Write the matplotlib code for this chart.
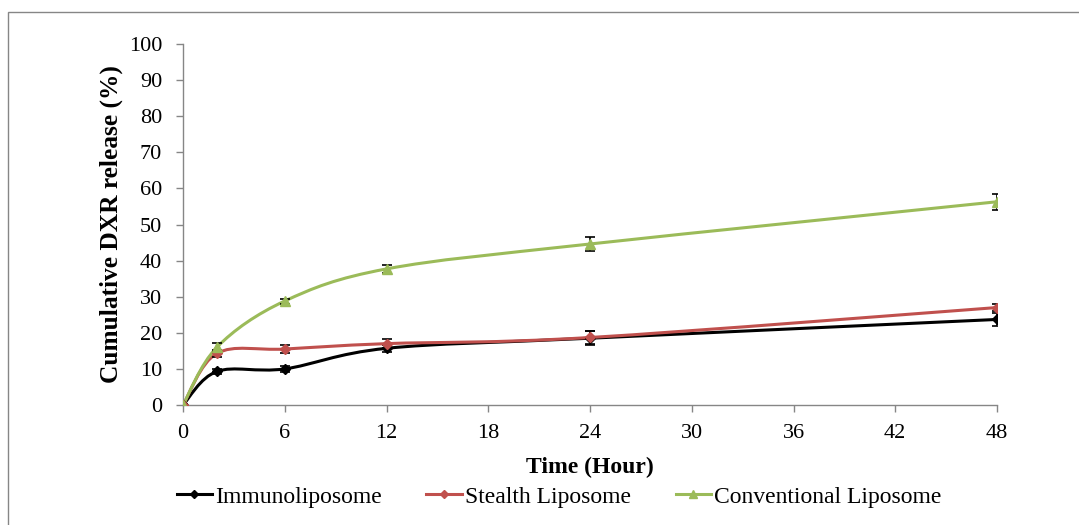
import matplotlib
matplotlib.use("Agg")
import matplotlib.pyplot as plt
from matplotlib.path import Path
from matplotlib.patches import PathPatch, Rectangle
from matplotlib.lines import Line2D

plt.rcParams['font.family'] = ['Liberation Serif', 'DejaVu Serif']

# data
hours = [0, 2, 6, 12, 24, 48]
immuno = [0, 9.3, 10.0, 15.7, 18.5, 23.7]
immuno_err = [0.3, 0.8, 0.9, 0.9, 1.9, 1.9]
stealth = [0, 14.3, 15.5, 17.0, 18.7, 27.0]
stealth_err = [0.3, 1.0, 1.0, 1.2, 1.9, 1.0]
conventional = [0, 16.0, 28.8, 37.7, 44.6, 56.3]
conventional_err = [0.3, 1.2, 0.7, 1.2, 2.0, 2.2]

names = ['Immunoliposome', 'Stealth Liposome', 'Conventional Liposome']
colors = ['#000000', '#C0504D', '#9BBB59']
markers = ['D', 'D', '^']
msizes = [5, 5, 7]


def smooth_path(xs, ys):
    # Excel-style smoothed line: cubic Bezier through the points
    pts = list(zip(xs, ys))
    n = len(pts)
    verts = [pts[0]]
    codes = [Path.MOVETO]
    for i in range(n - 1):
        p0 = pts[i - 1] if i > 0 else pts[i]
        p1 = pts[i]
        p2 = pts[i + 1]
        p3 = pts[i + 2] if i + 2 < n else pts[i + 1]
        c1 = (p1[0] + (p2[0] - p0[0]) / 6, p1[1] + (p2[1] - p0[1]) / 6)
        c2 = (p2[0] - (p3[0] - p1[0]) / 6, p2[1] - (p3[1] - p1[1]) / 6)
        verts += [c1, c2, p2]
        codes += [Path.CURVE4] * 3
    return Path(verts, codes)


fig = plt.figure(figsize=(10.79, 5.25), dpi=100)
ax = fig.add_axes([183 / 1079, 1 - 405 / 525, (997 - 183) / 1079, (405 - 44) / 525])

series = [immuno, stealth, conventional]
errs = [immuno_err, stealth_err, conventional_err]
handles = []
for vals, err, name, c, m, ms in zip(series, errs, names, colors, markers, msizes):
    ax.add_patch(PathPatch(smooth_path(hours, vals), facecolor='none',
                           edgecolor=c, lw=2.2, zorder=2))
    ax.errorbar(hours, vals, yerr=err, fmt='none', ecolor='black',
                elinewidth=1.2, capsize=3.5, capthick=1.2, zorder=3)
    ax.plot(hours, vals, linestyle='none', marker=m, color=c, ms=ms, zorder=4)
    handles.append(Line2D([], [], color=c, lw=2.2, marker=m, ms=ms - 1))

ax.set_xlim(0, 48)
ax.set_ylim(0, 100)
ax.set_xticks(range(0, 49, 6))
ax.set_yticks(range(0, 101, 10))
for s in ['top', 'right']:
    ax.spines[s].set_visible(False)
for s in ['left', 'bottom']:
    ax.spines[s].set_color('#868686')
    ax.spines[s].set_linewidth(1.0)
ax.tick_params(axis='both', colors='#868686', labelcolor='black',
               labelsize=16, length=5, width=1.0, direction='out')
ax.tick_params(axis='y', pad=10)
ax.tick_params(axis='x', pad=9)

ax.set_ylabel('Cumulative DXR release (%)', fontsize=18.3, fontweight='bold', labelpad=4)
ax.set_xlabel('Time (Hour)', fontsize=17, fontweight='bold', labelpad=10)

fig.legend(handles, names, loc='center', bbox_to_anchor=(0.518, 1 - 497 / 525),
           ncol=3, frameon=False, fontsize=17, handlelength=1.5,
           handletextpad=0.12, columnspacing=1.9)

fig.add_artist(Rectangle((8 / 1079, -0.05), 1.1, 1 - 12 / 525 + 0.05,
                         transform=fig.transFigure, fill=False,
                         edgecolor='#868686', lw=1.0))

fig.savefig('out.png', dpi=100)
